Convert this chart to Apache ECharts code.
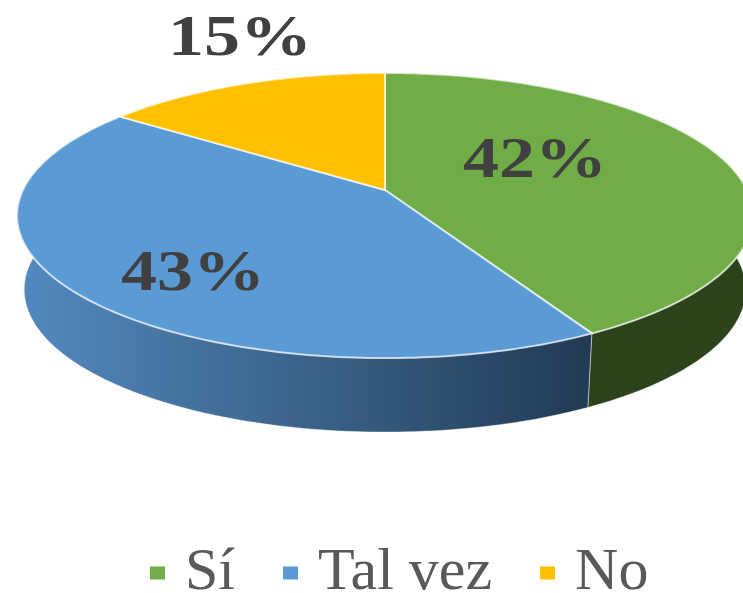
<!DOCTYPE html>
<html>
<head>
<meta charset="utf-8">
<style>html,body{margin:0;padding:0;background:#fff}#c{width:743px;height:593px}</style>
<script src="https://cdn.jsdelivr.net/npm/echarts@6/dist/echarts.min.js"></script>
</head>
<body>
<div id="c"></div>
<script>
const categories = ['Sí', 'Tal vez', 'No'];
const values = [42, 43, 15];
const colors = ['#70ad47', '#5b9bd5', '#ffc000'];

// Perspective view of the disc (layout only)
const CX = 385, W_TOP = 362, W_BOT = 355, DEPTH = 74;
const P = -0.179, YA = 104, YB = 190;
const FRONT_FROM = 85, FRONT_TO = 275;
const labelCenters = [[535, 162], [193, 275], [240, 40]];
const LABEL_STRETCH = 1.24;

const total = values.reduce((a, b) => a + b, 0);
function sliceRange(i) {
  const before = values.slice(0, i).reduce((a, b) => a + b, 0);
  return [before / total * 360, (before + values[i]) / total * 360];
}
function rim(deg, bottom) {
  const t = deg * Math.PI / 180, u = Math.sin(t), v = -Math.cos(t), d = 1 + P * v;
  const y = (YA * v + YB) / d;
  return bottom ? [CX + W_BOT * u / d, y + DEPTH] : [CX + W_TOP * u / d, y];
}
function arc(a, b, bottom) {
  const n = Math.max(2, Math.ceil(Math.abs(b - a))), pts = [];
  for (let k = 0; k <= n; k++) pts.push(rim(a + (b - a) * k / n, bottom));
  return pts;
}
const wallFills = [
  '#2c421b',
  { type: 'linear', x: 20, y: 0, x2: 590, y2: 0, global: true,
    colorStops: [{ offset: 0, color: '#5389bf' }, { offset: 0.5, color: '#3a6389' }, { offset: 1, color: '#213a55' }] },
  '#7f6000'
];

function renderSlice(i) {
  return function () {
    const [a, b] = sliceRange(i), children = [];
    const fa = Math.max(a, FRONT_FROM), fb = Math.min(b, FRONT_TO);
    if (fb > fa) {
      children.push({
        type: 'polygon', z2: 1,
        shape: { points: arc(fa, fb, false).concat(arc(fb, fa, true)) },
        style: { fill: wallFills[i], stroke: 'rgba(255,255,255,0.45)', lineWidth: 1 }
      });
    }
    const apex = [CX, YB];
    children.push({
      type: 'polygon', z2: 2,
      shape: { points: [apex].concat(arc(a, b, false)) },
      style: { fill: colors[i], stroke: 'rgba(255,255,255,0.65)', lineWidth: 2 }
    });
    const c = labelCenters[i];
    children.push({
      type: 'text', z2: 3, x: c[0], y: c[1], scaleX: LABEL_STRETCH,
      style: {
        text: Math.round(values[i] / total * 100) + '%',
        x: 0, y: 0, align: 'center', verticalAlign: 'middle',
        fill: '#404040', font: 'bold 58px "Liberation Serif"'
      }
    });
    return { type: 'group', children };
  };
}

const chart = echarts.init(document.getElementById('c'), null, { renderer: 'canvas' });
chart.setOption({
  animation: false,
  backgroundColor: '#fff',
  legend: {
    left: 150, top: 543, padding: 0, icon: 'rect',
    itemWidth: 15, itemHeight: 13, itemGap: 48, selectedMode: false,
    data: categories,
    textStyle: { fontFamily: 'Liberation Serif', fontSize: 60, color: '#595959', padding: [0, 0, 6, 15] }
  },
  series: categories.map((name, i) => ({
    type: 'custom', name, coordinateSystem: 'none', silent: true,
    itemStyle: { color: colors[i] },
    data: [values[i]],
    renderItem: renderSlice(i)
  }))
});
</script>
</body>
</html>
